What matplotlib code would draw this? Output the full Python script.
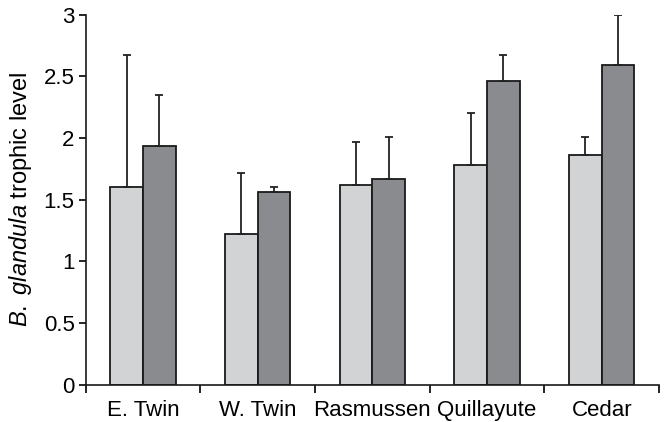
import numpy as np
import matplotlib.pyplot as plt
from matplotlib.ticker import FixedLocator

plt.rcParams['font.family'] = ['Liberation Sans', 'DejaVu Sans']
plt.rcParams['mathtext.fontset'] = 'custom'
plt.rcParams['mathtext.rm'] = 'Liberation Sans'
plt.rcParams['mathtext.it'] = 'Liberation Sans:italic'

# data
sites = ['E. Twin', 'W. Twin', 'Rasmussen', 'Quillayute', 'Cedar']
light_vals = [1.60, 1.22, 1.62, 1.78, 1.86]
light_err = [1.07, 0.50, 0.35, 0.42, 0.15]
dark_vals = [1.94, 1.56, 1.67, 2.46, 2.59]
dark_err = [0.41, 0.04, 0.34, 0.21, 0.41]

x = np.arange(len(sites))
w = 0.285

fig = plt.figure(figsize=(6.65, 4.22), dpi=100)
ax = fig.add_axes([0.129, 0.088, 0.862, 0.877])

ekw = dict(ecolor='#222222', elinewidth=1.3, capsize=3, capthick=1.3)
ax.bar(x - w / 2, light_vals, width=w, color='#d2d3d5', edgecolor='#1a1a1a',
       linewidth=1.3, yerr=[np.zeros(len(x)), light_err], error_kw=ekw, zorder=2)
ax.bar(x + w / 2, dark_vals, width=w, color='#8a8b8f', edgecolor='#1a1a1a',
       linewidth=1.3, yerr=[np.zeros(len(x)), dark_err], error_kw=ekw, zorder=2)

ax.set_xlim(-0.5, len(sites) - 0.5)
ax.set_ylim(0, 3)
ax.set_yticks(np.arange(0, 3.01, 0.5))
ax.set_yticklabels(['0', '0.5', '1', '1.5', '2', '2.5', '3'])

# tick marks between groups, labels centred under groups
ax.xaxis.set_major_locator(FixedLocator(np.arange(-0.5, len(sites), 1.0)))
ax.xaxis.set_minor_locator(FixedLocator(x))
ax.set_xticklabels([''] * (len(sites) + 1))
ax.set_xticklabels(sites, minor=True)
ax.tick_params(axis='x', which='major', length=6, width=1.2, direction='out')
ax.tick_params(axis='x', which='minor', length=0, labelsize=16, pad=11)
ax.tick_params(axis='y', length=5, width=1.2, direction='out', labelsize=16, pad=3)

for s in ['top', 'right']:
    ax.spines[s].set_visible(False)
for s in ['left', 'bottom']:
    ax.spines[s].set_linewidth(1.2)
    ax.spines[s].set_color('#1a1a1a')

ax.set_ylabel(r'$\it{B.\ glandula}$ trophic level', fontsize=17, labelpad=7)

fig.savefig('out.png', dpi=100)
